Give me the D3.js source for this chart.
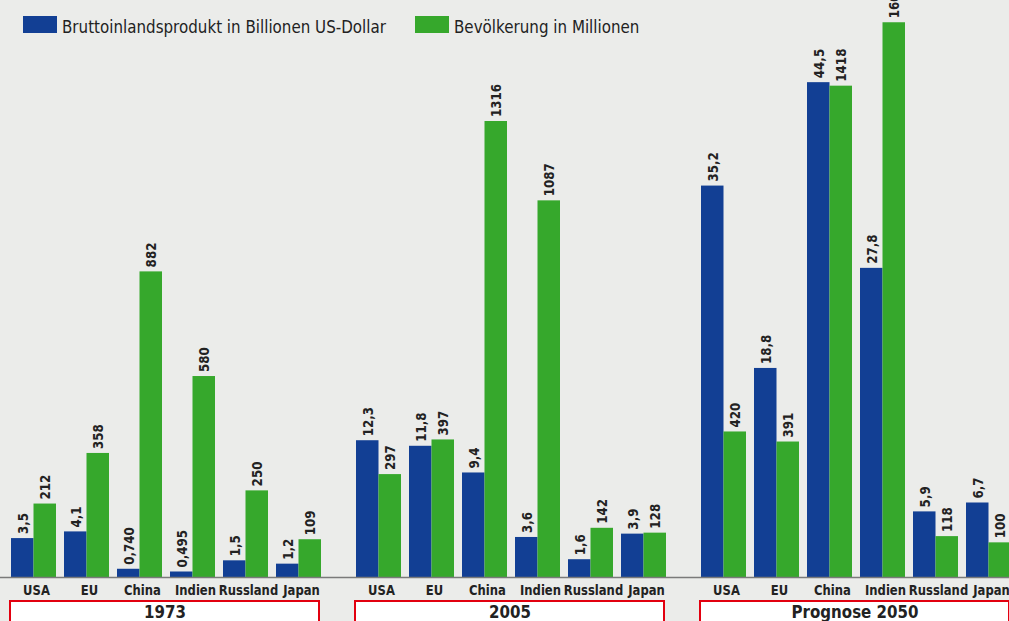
<!DOCTYPE html>
<html><head><meta charset="utf-8">
<script src="https://cdn.jsdelivr.net/npm/d3@7"></script>
<style>
html,body{margin:0;padding:0;background:#ebecea;}
svg{display:block;}
text{font-family:"DejaVu Sans",sans-serif;fill:#222;}
</style></head>
<body><svg id="c" width="1009" height="621"></svg>
<script>
const periods = ["1973", "2005", "Prognose 2050"];
const countries = ["USA", "EU", "China", "Indien", "Russland", "Japan"];
const seriesNames = ["Bruttoinlandsprodukt in Billionen US-Dollar", "Bevölkerung in Millionen"];
const gdp1973 = [3.5, 4.1, 0.740, 0.495, 1.5, 1.2];
const gdp2005 = [12.3, 11.8, 9.4, 3.6, 1.6, 3.9];
const gdp2050 = [35.2, 18.8, 44.5, 27.8, 5.9, 6.7];
const pop1973 = [212, 358, 882, 580, 250, 109];
const pop2005 = [297, 397, 1316, 1087, 142, 128];
const pop2050 = [420, 391, 1418, 1601, 118, 100];
const gdpLabels1973 = ["3,5", "4,1", "0,740", "0,495", "1,5", "1,2"];
const gdpLabels2005 = ["12,3", "11,8", "9,4", "3,6", "1,6", "3,9"];
const gdpLabels2050 = ["35,2", "18,8", "44,5", "27,8", "5,9", "6,7"];

const blue = "#123f94", green = "#36a82c";
const svg = d3.select("#c");
const base = 577;
const SX = 0.8; // horizontal squeeze to imitate a condensed typeface

const gdpAll = [gdp1973, gdp2005, gdp2050];
const popAll = [pop1973, pop2005, pop2050];
const gdpLab = [gdpLabels1973, gdpLabels2005, gdpLabels2050];

const yG = d3.scaleLinear().domain([0, 10]).range([base, base - 111.2]);
const yP = d3.scaleLinear().domain([0, 1000]).range([base, base - 346.5]);
const xPeriod = d3.scaleBand().domain(periods).range([11, 11 + 345 * 3]);
const xCountry = d3.scaleBand().domain(countries).range([0, 310]).paddingInner(8 / 53).paddingOuter(0);
const xSeries = d3.scaleBand().domain(["gdp", "pop"]).range([0, xCountry.bandwidth()]);

const rows = [];
periods.forEach((p, pi) => countries.forEach((c, ci) => {
  rows.push({p, c, s: "gdp", v: gdpAll[pi][ci], lab: gdpLab[pi][ci]});
  rows.push({p, c, s: "pop", v: popAll[pi][ci], lab: String(popAll[pi][ci])});
}));
const xOf = d => xPeriod(d.p) + xCountry(d.c) + xSeries(d.s);
const yOf = d => d.s === "gdp" ? yG(d.v) : yP(d.v);

svg.append("g").selectAll("rect").data(rows).join("rect")
  .attr("x", xOf).attr("y", yOf)
  .attr("width", xSeries.bandwidth()).attr("height", d => base - yOf(d))
  .attr("fill", d => d.s === "gdp" ? blue : green);

svg.append("g").selectAll("text").data(rows).join("text")
  .attr("transform", d => `translate(${xOf(d) + xSeries.bandwidth() / 2 + 5.5},${yOf(d) - 4}) rotate(-90) scale(0.82,1)`)
  .attr("font-size", 14.5).attr("font-weight", "bold")
  .text(d => d.lab);

svg.append("line").attr("x1", 0).attr("x2", 1009).attr("y1", base + 0.5).attr("y2", base + 0.5)
  .attr("stroke", "#7a7a7a").attr("stroke-width", 1.5);

const catRows = [];
periods.forEach(p => countries.forEach(c => catRows.push({p, c})));
svg.append("g").selectAll("text").data(catRows).join("text")
  .attr("transform", d => `translate(${xPeriod(d.p) + xCountry(d.c) + xCountry.bandwidth() / 2 + 3},595) scale(${SX},1)`)
  .attr("text-anchor", "middle")
  .attr("font-size", 14.5).attr("font-weight", "bold")
  .text(d => d.c);

const pg = svg.append("g").selectAll("g").data(periods).join("g");
pg.append("rect").attr("x", d => xPeriod(d) - 1).attr("y", 601).attr("width", 309).attr("height", 30)
  .attr("fill", "#fff").attr("stroke", "#e2000f").attr("stroke-width", 2);
pg.append("text")
  .attr("transform", d => `translate(${xPeriod(d) + 154},617.5) scale(0.86,1)`)
  .attr("text-anchor", "middle")
  .attr("font-size", 17.5).attr("font-weight", "bold").text(d => d);

const leg = svg.append("g");
const legX = [23, 415];
leg.selectAll("rect").data(seriesNames).join("rect")
  .attr("x", (d, i) => legX[i]).attr("y", 16).attr("width", 34).attr("height", 17)
  .attr("fill", (d, i) => i ? green : blue);
leg.selectAll("text").data(seriesNames).join("text")
  .attr("transform", (d, i) => `translate(${legX[i] + 39},32.5) scale(0.84,1)`)
  .attr("font-size", 18).text(d => d);
</script></body></html>
